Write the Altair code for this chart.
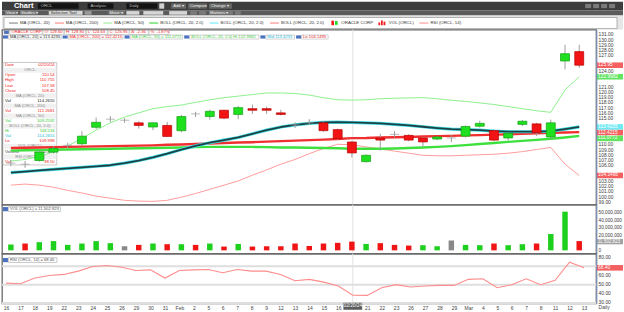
import altair as alt
import pandas as pd

FONT = "Liberation Sans"
RED = "#f01c1c"
GREEN = "#1fd81f"
CYAN = "#33e0f0"

# ---------------- data ----------------
date_labels = ["16", "17", "18", "19", "22", "23", "24", "25", "26", "29", "30", "31", "Feb", "2", "5",
               "6", "7", "8", "9", "12", "13", "14", "15", "16", "02/20/24", "21", "22", "23", "26", "27",
               "28", "29", "Mar", "4", "5", "6", "7", "8", "11", "12", "13"]
opens = [106.5, 106.3, 107.0, 108.6, 109.9, 110.2, 113.35, 114.9, 114.7, 114.2,
         113.4, 113.7, 112.7, 115.9, 115.4, 116.6, 115.8, 116.9, 116.9, 116.1,
         113.8, 114.2, 114.2, 112.9, 110.54, 106.8, 111.3, 112.0, 111.8, 111.3,
         111.1, 111.3, 111.65, 113.55, 112.7, 111.3, 113.9, 114.0, 111.5, 126.0, 127.8]
highs = [107.1, 106.9, 108.9, 109.7, 110.4, 112.6, 115.2, 115.5, 115.1, 114.5,
         114.3, 114.4, 115.7, 116.3, 116.7, 116.7, 117.4, 117.7, 117.3, 116.7,
         114.3, 114.9, 114.5, 113.1, 110.755, 108.2, 112.1, 112.6, 112.0, 111.5,
         111.7, 111.9, 113.7, 114.6, 112.9, 112.4, 114.7, 114.2, 114.8, 129.1, 129.1]
lows = [105.9, 105.6, 106.8, 108.3, 109.3, 109.8, 113.0, 114.3, 114.2, 113.1,
        112.8, 111.5, 112.4, 115.3, 114.8, 114.9, 114.9, 115.9, 115.9, 115.6,
        113.2, 113.8, 112.5, 111.0, 107.58, 106.6, 108.9, 111.4, 110.7, 109.7,
        110.9, 110.5, 111.4, 113.3, 110.7, 110.8, 113.6, 111.7, 111.2, 124.4, 124.7]
closes = [106.5, 106.3, 108.6, 109.3, 109.9, 111.65, 114.3, 114.9, 114.7, 113.7,
          114.2, 111.6, 115.4, 115.9, 116.4, 115.1, 117.1, 116.6, 116.6, 115.8,
          113.8, 114.2, 112.7, 111.2, 108.45, 108.0, 110.9, 112.0, 110.9, 110.55,
          111.5, 111.3, 113.5, 114.1, 110.9, 112.2, 114.5, 112.3, 114.2, 127.4, 125.2]
volume_m = [7.7, 9.0, 10.8, 12.2, 7.2, 9.0, 12.2, 9.5, 5.4, 7.2,
            9.0, 8.1, 8.1, 7.2, 9.0, 5.0, 8.5, 5.0, 5.4, 5.4,
            9.0, 5.8, 9.0, 9.9, 11.502823, 8.5, 9.5, 7.2, 6.3, 6.8,
            5.4, 13.0, 7.2, 6.8, 9.0, 6.8, 8.1, 9.0, 21.6, 51.0, 12.2]
volume_dir = ["up", "down", "up", "up", "up", "up", "up", "up", "flat", "down",
              "up", "down", "up", "down", "up", "down", "up", "down", "down", "down",
              "down", "down", "down", "down", "down", "up", "down", "down", "down", "up",
              "up", "flat", "up", "up", "down", "up", "up", "down", "up", "up", "down"]
rsi = [51.7, 51.0, 57.2, 60.1, 61.2, 64.8, 69.9, 71.0, 69.1, 65.5,
       66.2, 57.2, 65.5, 66.2, 66.6, 63.0, 66.6, 64.8, 64.8, 61.2,
       54.3, 55.8, 52.8, 48.5, 38.5, 38.3, 46.7, 50.0, 47.4, 48.5,
       49.2, 49.2, 55.8, 56.5, 46.7, 50.0, 56.5, 50.0, 54.7, 74.6, 68.4]
ma20 = [104.7, 104.9, 105.1, 105.3, 105.5, 105.7, 105.9, 106.1, 106.5, 107.0,
        107.6, 108.3, 109.1, 109.8, 110.4, 110.9, 111.4, 112.1, 112.8, 113.4,
        113.8, 114.1, 114.3, 114.35, 114.2655, 114.2, 114.1, 113.9, 113.7, 113.45,
        113.2, 113.0, 112.9, 112.8, 112.6, 112.5, 112.5, 112.5, 112.6, 113.0, 113.4235]
ma200 = [109.4, 109.45, 109.5, 109.55, 109.6, 109.65, 109.7, 109.75, 109.8, 109.85,
         109.9, 110.0, 110.05, 110.15, 110.25, 110.35, 110.45, 110.5, 110.6, 110.7,
         110.8, 110.9, 111.0, 111.1, 111.2681, 111.3, 111.4, 111.45, 111.5, 111.6,
         111.65, 111.7, 111.8, 111.85, 111.95, 112.0, 112.1, 112.2, 112.3, 112.35, 112.4215]
ma50 = [108.9, 108.95, 109.0, 109.05, 109.1, 109.15, 109.2, 109.25, 109.3, 109.35,
        109.4, 109.45, 109.5, 109.55, 109.6, 109.6, 109.6, 109.6, 109.55, 109.5,
        109.5, 109.45, 109.4, 109.35, 109.2592, 109.25, 109.25, 109.3, 109.4, 109.5,
        109.6, 109.75, 109.95, 110.15, 110.35, 110.55, 110.75, 110.95, 111.15, 111.4, 111.7]
boll_hi = [106.9, 107.2, 107.8, 108.6, 109.8, 111.2, 112.8, 114.2, 115.3, 116.1,
           116.9, 117.3, 117.6, 118.1, 118.6, 119.0, 119.3, 119.6, 119.9, 119.9,
           119.8, 119.5, 119.0, 118.6, 118.533, 118.6, 118.8, 118.9, 118.95, 119.0,
           118.8, 118.5, 118.3, 118.0, 117.7, 117.3, 116.9, 116.5, 116.2, 120.5, 122.9982]
boll_lo = [102.3, 102.5, 102.3, 101.9, 101.3, 100.8, 100.2, 99.8, 99.4, 99.25,
           99.2, 99.4, 100.0, 100.7, 101.5, 102.3, 103.1, 104.2, 105.2, 106.3,
           107.2, 108.3, 109.3, 110.1, 109.998, 109.6, 109.2, 108.8, 108.4, 108.0,
           107.9, 107.9, 108.0, 108.1, 108.2, 108.4, 108.7, 109.1, 109.5, 106.3, 104.1495]
rsi_levels = [70, 50, 30]

price_flag_text = ["125.95", "122.9982", "113.4235", "112.4215", "111.0772", "104.1495"]
price_flag_colors = [RED, GREEN, CYAN, RED, GREEN, RED]
quote_items = ["ORACLE CORP", "O: 128.60", "H: 128.80", "L: 124.63", "C: 125.95", "\u0394: -2.36", "%: -1.87%"]
study_items = [("MA (ORCL, 20) = 113.4235", "#333333"), ("MA (ORCL, 200) = 112.4215", RED),
               ("MA (ORCL, 50) = 111.0772", "#44cc44"), ("BOLL (ORCL, 20, 2.0) Hi 122.9982", "#44cc44"),
               ("Mid 113.4235", "#22bbdd"), ("Lo 104.1495", RED)]
legend_items = [("MA (ORCL, 20)", "#a0a0a0", "line"), ("MA (ORCL, 200)", "#ff9e9e", "line"),
                ("MA (ORCL, 50)", "#b0f0b0", "line"), ("BOLL (ORCL, 20, 2.0)", "#66dd66", "line"),
                ("BOLL (ORCL, 20, 2.0)", "#8af0ff", "line"), ("BOLL (ORCL, 20, 2.0)", "#ff9e9e", "line"),
                ("ORACLE CORP", "", "candle"), ("VOL (ORCL)", RED, "vol"), ("RSI (ORCL, 14)", "#ffaaaa", "line")]
box_rows = [("Date", "02/20/24", RED), ("ORCL", None, None), ("Open", "110.54", RED), ("High", "110.755", RED),
            ("Low", "107.58", RED), ("Close", "108.45", RED), ("MA (ORCL, 20)", None, None),
            ("Val", "114.2655", "#222222"), ("MA (ORCL, 200)", None, None), ("Val", "111.2681", RED),
            ("MA (ORCL, 50)", None, None), ("Val", "109.2592", "#33cc33"), ("BOLL (ORCL, 20, 2.0)", None, None),
            ("Hi", "118.533", "#33cc33"), ("Val", "114.2655", "#22bbdd"), ("Lo", "109.998", RED),
            ("VOL (ORCL)", None, None), ("Volume", "11,502,823", "#444444"), ("RSI (ORCL, 14)", None, None),
            ("Val", "38.50", RED)]

# ---------------- tables ----------------
N = len(date_labels)
hover = date_labels.index("02/20/24")


def direction(o, c):
    return "up" if c > o else ("down" if c < o else "flat")


df = pd.DataFrame({
    "i": list(range(N)), "open": opens, "high": highs, "low": lows, "close": closes,
    "dir": [direction(o, c) for o, c in zip(opens, closes)],
    "vol": [v * 1e6 for v in volume_m], "vdir": volume_dir, "rsi": rsi,
    "ma20": ma20, "ma200": ma200, "ma50": ma50, "bhi": boll_hi, "blo": boll_lo,
})

W = 597
HEADER_H, PRICE_H, VOL_H, RSI_H = 28, 176, 49, 50


def declutter(values, min_gap):
    """keep value flags apart (top to bottom) so that they do not cover each other"""
    order = sorted(range(len(values)), key=lambda k: -values[k])
    out = list(values)
    prev = None
    for k in order:
        if prev is not None and out[k] > prev - min_gap:
            out[k] = prev - min_gap
        prev = out[k]
    return out


def free_ticks(values, flags, gap):
    return [v for v in values if all(abs(v - f) >= gap for f in flags)]


x_scale = alt.Scale(domain=[-0.275, 40.84], nice=False, zero=False)
X = alt.X("i:Q", scale=x_scale, axis=None)


def right_axis(values, fmt, size=4.9):
    return alt.Axis(orient="right", values=values, format=fmt, labelFontSize=size, labelColor="#3a3a3a",
                    ticks=False, domain=True, domainColor="#7d8fb0", domainWidth=1.5, grid=False,
                    labelPadding=2, minExtent=27, maxExtent=27, labelOverlap=False, labelFlush=False,
                    title=None, labelFont=FONT)


price_flag_vals = declutter([closes[-1], boll_hi[-1], ma20[-1], ma200[-1], ma50[-1], boll_lo[-1]], 1.1)
price_scale = alt.Scale(domain=[98.55, 132.0], nice=False, zero=False)
price_axis = right_axis(free_ticks(list(range(99, 132)), price_flag_vals, 1.0), ".2f")


def PY(f):
    return alt.Y(f + ":Q", scale=price_scale, axis=price_axis)


def tw(s, size):
    w = 0.0
    for ch in s:
        if ch.isupper():
            w += 0.67
        elif ch.isdigit():
            w += 0.556
        elif ch in " .,:":
            w += 0.28
        elif ch in "()":
            w += 0.33
        else:
            w += 0.52
    return w * size


def px_rects(rows, **kw):
    d = pd.DataFrame(rows, columns=["x", "x2", "y", "y2", "c"])
    return alt.Chart(d).mark_rect(**kw).encode(
        x=alt.X("x:Q", scale=None, axis=None), x2="x2:Q",
        y=alt.Y("y:Q", scale=None, axis=None), y2="y2:Q",
        fill=alt.Fill("c:N", scale=None, legend=None))


def px_texts(rows, **kw):
    d = pd.DataFrame(rows, columns=["x", "y", "t", "c"])
    return alt.Chart(d).mark_text(baseline="middle", font=FONT, **kw).encode(
        x=alt.X("x:Q", scale=None, axis=None),
        y=alt.Y("y:Q", scale=None, axis=None),
        text="t:N", fill=alt.Fill("c:N", scale=None, legend=None))


def label_chip(text, y0, y1, color, size=4.2):
    """icon + bordered text chip at top-left of a panel"""
    w = tw(text, size) + 3
    icon = px_rects([(1, 6, y0 + 0.3, y1 - 0.3, "#4a72c0")])
    box = px_rects([(6.5, 6.5 + w, y0, y1, "#ffffff")], stroke="#a8a8a8", strokeWidth=0.6)
    txt = px_texts([(8, (y0 + y1) / 2, text, color)], align="left", fontSize=size)
    return [icon, box, txt]


# ---------------- header (window chrome + legend) ----------------
hdr_rects = [
    (0, 624, 0, 8.5, "#3d3d3d"), (0, 624, 8.5, 13.8, "#5b5b5b"), (0, 624, 13.8, 28, "#e6e6e6"),
    (36, 77, 1.6, 7.0, "#141414"), (86, 112, 1.6, 7.0, "#141414"), (125, 156, 1.6, 7.0, "#141414"),
    (158, 163, 1.6, 7.0, "#d0d0d0"), (170, 185, 1.6, 7.0, "#676767"), (187, 206, 1.6, 7.0, "#676767"),
    (208, 231, 1.6, 7.0, "#676767"), (586, 592, 2.2, 6.4, "#7a7a7a"), (594, 600, 2.2, 6.4, "#7a7a7a"),
    (602, 608, 2.2, 6.4, "#7a7a7a"), (610, 616, 2.2, 6.4, "#7a7a7a"),
    (3, 16, 9.4, 13.0, "#7a7a7a"), (18, 36, 9.4, 13.0, "#7a7a7a"), (47, 81, 9.4, 13.0, "#d6d6d6"),
    (83, 90, 9.4, 13.0, "#9a9a9a"), (107, 123, 9.4, 13.0, "#7a7a7a"), (125, 138, 9.4, 13.0, "#d6d6d6"),
    (142, 162, 9.4, 13.0, "#d6d6d6"), (168, 186, 9.4, 13.0, "#d6d6d6"), (189, 196, 9.4, 13.0, "#7a7a7a"),
    (198, 205, 9.4, 13.0, "#7a7a7a"), (208, 232, 9.4, 13.0, "#7a7a7a"), (234, 240, 9.4, 13.0, "#7a7a7a"),
]
hdr_texts_small = [
    (39, 4.4, "ORCL", "#bdbdbd"), (89, 4.4, "Analysis", "#bdbdbd"), (128, 4.4, "Daily", "#bdbdbd"),
    (172, 4.4, "Add \u25be", "#eeeeee"), (189, 4.4, "Compare", "#eeeeee"), (210, 4.4, "Change \u25be", "#eeeeee"),
    (4, 11.3, "View \u25be", "#eeeeee"), (19, 11.3, "Studies \u25be", "#eeeeee"),
    (49, 11.3, "Selection Tool", "#333333"), (108, 11.3, "Move \u25be", "#eeeeee"),
    (209, 11.3, "Markers \u25be", "#eeeeee"),
]
leg_sw, leg_txt = [], []
lx = 7.0
LY = 21.4
for name, col, kind in legend_items:
    if kind == "line":
        leg_sw.append((lx, lx + 9, LY - 0.7, LY + 0.7, col))
    elif kind == "candle":
        leg_sw.append((lx + 1, lx + 3.6, LY - 2.4, LY + 2.2, RED))
        leg_sw.append((lx + 4.6, lx + 7.2, LY - 2.0, LY + 1.8, GREEN))
    else:
        leg_sw.append((lx + 0.5, lx + 2.3, LY - 0.6, LY + 2.2, col))
        leg_sw.append((lx + 3.1, lx + 4.9, LY - 2.6, LY + 2.2, col))
        leg_sw.append((lx + 5.7, lx + 7.5, LY - 1.4, LY + 2.2, col))
    leg_txt.append((lx + 11, LY, name, "#333333"))
    lx += 11 + tw(name, 4.4) + 6

header = alt.layer(
    px_rects(hdr_rects),
    px_rects([(2, 618, 15.8, 27, "#ffffff")], stroke="#9c9c9c", strokeWidth=0.8),
    px_rects(leg_sw),
    px_texts([(12, 4.6, "Chart", "#ffffff")], align="left", fontSize=7.5, fontWeight="bold"),
    px_texts(hdr_texts_small, align="left", fontSize=4.2),
    px_texts(leg_txt, align="left", fontSize=4.4),
).properties(width=624, height=HEADER_H, view=alt.ViewBackground(stroke="transparent"))

# ---------------- price panel ----------------
base = alt.Chart(df)


def pline(field, color, width):
    return base.mark_line(color=color, strokeWidth=width, strokeJoin="round").encode(x=X, y=PY(field))


wicks = base.mark_rule(color="#9c9c9c", strokeWidth=1).encode(x=X, y=PY("low"), y2="high:Q")
bodies = base.transform_filter("datum.dir != 'flat'").mark_bar(size=9, strokeWidth=0.7).encode(
    x=X, y=PY("open"), y2="close:Q",
    fill=alt.Fill("dir:N", scale=alt.Scale(domain=["up", "down"], range=["#1ee01e", "#f21414"]), legend=None),
    stroke=alt.Stroke("dir:N", scale=alt.Scale(domain=["up", "down"], range=["#12a012", "#b80000"]), legend=None))
dojis = base.transform_filter("datum.dir == 'flat'").mark_tick(
    orient="horizontal", size=9, thickness=1, color="#9a9a9a").encode(x=X, y=PY("open"))

pflags = pd.DataFrame({"v": price_flag_vals, "t": price_flag_text, "c": price_flag_colors})
pflag_ticks = alt.Chart(pflags).mark_tick(orient="horizontal", size=26, thickness=5.6).encode(
    x=alt.value(611), y=PY("v"), color=alt.Color("c:N", scale=None, legend=None))
pflag_text = alt.Chart(pflags).mark_text(align="left", baseline="middle", fontSize=4.8, color="white",
                                         font=FONT).encode(x=alt.value(599), y=PY("v"), text="t:N")

price_data = alt.layer(
    pline("bhi", "#8ef08e", 1), pline("blo", "#ff9c9c", 1),
    pline("ma50", "#3ee03e", 2.4), pline("ma200", "#f03030", 2.4),
    pline("ma20", "#40e0e8", 3.2), pline("ma20", "#1d4044", 1.8),
    wicks, bodies, dojis, pflag_ticks, pflag_text)

cross = alt.Chart(pd.DataFrame({"i": [hover]})).mark_rule(color="#e2e2e2", strokeWidth=1).encode(x=X)

# data box (hover read-out)
BOX_Y0, ROW_H = 33.0, 5.1
box_bg, box_head, box_left, box_right = [], [], [], []
for k, (a, b, col) in enumerate(box_rows):
    yc = BOX_Y0 + 2.8 + k * ROW_H
    if b is None:
        box_bg.append((1.5, 54.5, yc - 2.4, yc + 2.4, "#f1f1f1"))
        box_head.append((28, yc, a, "#8a8a8a"))
    else:
        box_left.append((3, yc, a, col))
        box_right.append((53, yc, b, col))
price_box = alt.layer(
    px_rects([(1, 55, BOX_Y0, BOX_Y0 + len(box_rows) * ROW_H + 1, "#ffffff")], stroke="#b0b0b0",
             strokeWidth=0.7, opacity=0.95),
    px_rects(box_bg),
    px_texts(box_head, align="center", fontSize=4.2),
    px_texts(box_left, align="left", fontSize=4.3),
    px_texts(box_right, align="right", fontSize=4.3),
)

# quote + study rows at the top
q_rects, q_txt = [(2, 7, 1.0, 4.4, "#4a72c0")], []
qx = 8.0
for t in quote_items:
    w = tw(t, 4.2) + 3
    q_rects.append((qx, qx + w, 0.6, 4.9, "#ffffff"))
    q_txt.append((qx + 1.5, 2.8, t, RED))
    qx += w + 0.8
s_icons, s_rects, s_txt = [], [], []
sx = 1.0
for t, col in study_items:
    w = tw(t, 4.2) + 3
    s_icons.append((sx, sx + 5, 5.8, 9.0, "#4a72c0"))
    s_rects.append((sx + 5.5, sx + 5.5 + w, 5.4, 9.5, "#ffffff"))
    s_txt.append((sx + 7, 7.45, t, col))
    sx += 5.5 + w + 1.5
price_labels = alt.layer(
    px_rects(q_rects, stroke="#a8a8a8", strokeWidth=0.5),
    px_texts(q_txt, align="left", fontSize=4.2),
    px_rects(s_rects, stroke="#a8a8a8", strokeWidth=0.5),
    px_rects(s_icons),
    px_texts(s_txt, align="left", fontSize=4.2),
)

RES = dict(x="independent", y="independent", color="independent", fill="independent", stroke="independent")

price = alt.layer(cross, price_box, price_data, price_labels).resolve_scale(**RES).properties(
    width=W, height=PRICE_H)

# ---------------- volume panel ----------------
vflag = pd.DataFrame({"v": [volume_m[hover] * 1e6], "t": [f"{round(volume_m[hover] * 1e6):,}"]})
vol_scale = alt.Scale(domain=[-4.2e6, 60.1e6], nice=False, zero=False)
vol_axis = right_axis(free_ticks([0, 10e6, 20e6, 30e6, 40e6, 50e6], list(vflag["v"]), 7e6), ",d", 4.7)


def VY(f):
    return alt.Y(f + ":Q", scale=vol_scale, axis=vol_axis)


vbars = base.mark_bar(size=5.5).encode(
    x=X, y=VY("vol"), y2=alt.datum(0),
    color=alt.Color("vdir:N", scale=alt.Scale(domain=["up", "down", "flat"],
                                              range=["#1ed01e", "#f01414", "#888888"]), legend=None))
vflag_tick = alt.Chart(vflag).mark_tick(orient="horizontal", size=26, thickness=5.4, color="#7a7a7a").encode(
    x=alt.value(611), y=VY("v"))
vflag_text = alt.Chart(vflag).mark_text(align="left", baseline="middle", fontSize=4.6, color="white",
                                        font=FONT).encode(x=alt.value(598.5), y=VY("v"), text="t:N")
vol_data = alt.layer(vbars, vflag_tick, vflag_text)
vol_label = alt.layer(*label_chip("VOL (ORCL) = " + vflag["t"][0], 2.0, 6.8, "#555555"))
volume = alt.layer(cross, vol_data, vol_label).resolve_scale(**RES).properties(width=W, height=VOL_H)

# ---------------- RSI panel ----------------
rflag = pd.DataFrame({"v": [rsi[-1]], "t": [f"{rsi[-1]:.2f}"]})
rsi_scale = alt.Scale(domain=[29.67, 84.0], nice=False, zero=False)
rsi_axis = right_axis(free_ticks([30, 40, 50, 60, 70, 80], list(rflag["v"]), 5.7), ".2f")


def RY(f):
    return alt.Y(f + ":Q", scale=rsi_scale, axis=rsi_axis)


axis_labels = ["" if k == hover else d for k, d in enumerate(date_labels)]
label_expr = "[" + ",".join("'" + s + "'" for s in axis_labels) + "][datum.value]"
x_axis = alt.Axis(values=list(range(N)), labelExpr=label_expr, labelFontSize=5, labelColor="#444444",
                  ticks=False, domain=False, grid=False, labelPadding=2.5, title=None, labelOverlap=False,
                  labelFlush=False, minExtent=9, maxExtent=9, labelFont=FONT)


def RX(f):
    return alt.X(f + ":Q", scale=x_scale, axis=x_axis)


rsi_bands = alt.Chart(pd.DataFrame({"r": rsi_levels})).mark_rule(color="#dedede", strokeWidth=2).encode(
    y=RY("r"))
rsi_line = base.mark_line(color="#ff8c8c", strokeWidth=1.1).encode(x=RX("i"), y=RY("rsi"))
rflag_tick = alt.Chart(rflag).mark_tick(orient="horizontal", size=26, thickness=5.6, color=RED).encode(
    x=alt.value(611), y=RY("v"))
rflag_text = alt.Chart(rflag).mark_text(align="left", baseline="middle", fontSize=4.8, color="white",
                                        font=FONT).encode(x=alt.value(599), y=RY("v"), text="t:N")
hov = pd.DataFrame({"a": [hover - 0.65], "b": [hover + 0.65], "i": [hover], "t": [date_labels[hover]]})
hov_box = alt.Chart(hov).mark_rect(color="#5c5c5c").encode(
    x=RX("a"), x2="b:Q", y=alt.value(49.5), y2=alt.value(56.5))
hov_text = alt.Chart(hov).mark_text(color="white", fontSize=4.8, baseline="middle", font=FONT).encode(
    x=RX("i"), y=alt.value(53), text="t:N")
daily = alt.Chart(pd.DataFrame({"t": ["Daily"]})).mark_text(
    color="#444444", fontSize=5, baseline="middle", font=FONT).encode(
    x=alt.value(605), y=alt.value(53.5), text="t:N")
rsi_data = alt.layer(rsi_bands, rsi_line, rflag_tick, rflag_text, hov_box, hov_text, daily)
rsi_label = alt.layer(*label_chip("RSI (ORCL, 14) = " + rflag["t"][0], 4.2, 9.0, "#555555"))
rsi_panel = alt.layer(cross, rsi_data, rsi_label).resolve_scale(**RES).properties(width=W, height=RSI_H)

chart = alt.vconcat(header, price, volume, rsi_panel, spacing=0).properties(
    padding=0, bounds="flush"
).configure(background="white").configure_view(stroke="#6a6a6a", strokeWidth=1.3).configure_text(
    font=FONT).configure_axis(labelFont=FONT)

chart.save("out.html", embed_options={"renderer": "svg", "actions": False})
